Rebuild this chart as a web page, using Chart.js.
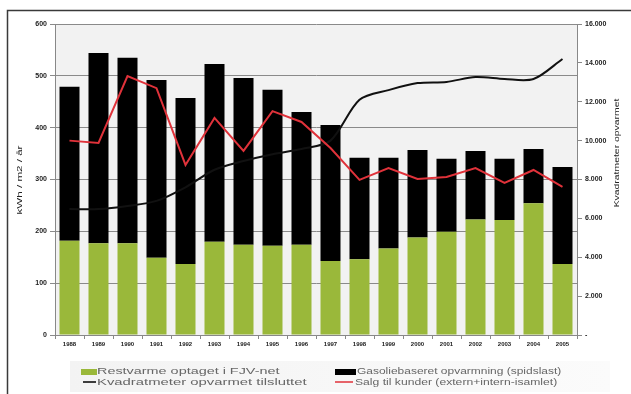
<!DOCTYPE html>
<html>
<head>
<meta charset="utf-8">
<script src="https://cdn.jsdelivr.net/npm/chart.js@4/dist/chart.umd.min.js"></script>
<style>
  html, body { margin: 0; padding: 0; background: #fff; }
  #wrap { width: 631px; height: 394px; }
</style>
</head>
<body>
<div id="wrap"><canvas id="varme"></canvas></div>
<script>
var years = ["1988", "1989", "1990", "1991", "1992", "1993", "1994", "1995", "1996",
             "1997", "1998", "1999", "2000", "2001", "2002", "2003", "2004", "2005"];

// kWh / m2 / år
var restvarme = [182, 177, 177, 149, 137, 180, 174, 172, 174, 143, 146, 167, 188, 199, 223, 222, 254, 137];
var gasolie   = [297, 367, 358, 343, 320, 343, 322, 301, 256, 262, 196, 175, 169, 141, 132, 118, 105, 187];

// kvadratmeter (højre akse)
var kvadratmeter = [6480, 6480, 6640, 6900, 7600, 8500, 8950, 9300, 9570, 10000,
                    12100, 12600, 12960, 13020, 13270, 13170, 13170, 14200];
var salg = [10000, 9880, 13320, 12700, 8750, 11170, 9470, 11520, 10960, 9620,
            7980, 8590, 8030, 8130, 8590, 7820, 8490, 7620];

var leftTicks = [0, 100, 200, 300, 400, 500, 600];
var rightTicks = [0, 2000, 4000, 6000, 8000, 10000, 12000, 14000, 16000];

var labels = [
  "Restvarme optaget i FJV-net",
  "Gasoliebaseret opvarmning (spidslast)",
  "Kvadratmeter opvarmet tilsluttet",
  "Salg til kunder (extern+intern-isamlet)"
];

var green = "#9ab83a";
var red = "#e0323a";

function fmtDot(v) {
  if (v === 0) return "-";
  return String(v).replace(/\B(?=(\d{3})+(?!\d))/g, ".");
}

// text stretched along its reading direction
function stretchedText(ctx, txt, x, y, font, sx, align) {
  ctx.save();
  ctx.font = font;
  ctx.textBaseline = "middle";
  ctx.textAlign = align || "left";
  ctx.translate(x, y);
  ctx.scale(sx, 1);
  ctx.fillText(txt, 0, 0);
  ctx.restore();
}

var frame = {
  id: "frame",
  beforeDraw: function (chart) {
    var c = chart.ctx, a = chart.chartArea;
    c.save();
    c.fillStyle = "#f2f2f2";
    c.fillRect(a.left, a.top, a.right - a.left, a.bottom - a.top);
    var g = c.createLinearGradient(70, 0, 610, 0);
    g.addColorStop(0, "#f3f3f3");
    g.addColorStop(1, "#fbfbfb");
    c.fillStyle = g;
    c.fillRect(70, 361, 540, 31);
    c.restore();
  },
  afterDraw: function (chart) {
    var c = chart.ctx;
    c.save();
    c.strokeStyle = "#3a3a3a";
    c.lineWidth = 1.5;
    c.strokeRect(7.5, 10.5, 640, 400);

    c.fillStyle = "#222";
    // left axis title
    c.save();
    c.translate(20, 180);
    c.rotate(-Math.PI / 2);
    stretchedText(c, "kWh / m2 / år", 0, 0, "8px 'Liberation Sans', Arial", 1.45, "center");
    c.restore();
    // right axis title
    c.save();
    c.translate(617, 153);
    c.rotate(-Math.PI / 2);
    stretchedText(c, "Kvadratmeter opvarmet", 0, 0, "8px 'Liberation Sans', Arial", 1.3, "center");
    c.restore();

    // legend, two columns
    var f = "9px 'Liberation Sans', Arial";
    c.fillStyle = green;
    c.fillRect(81, 369, 16, 6);
    c.fillStyle = "#000";
    c.fillRect(335, 369, 21, 6);
    c.lineWidth = 1.5;
    c.strokeStyle = "#000";
    c.beginPath(); c.moveTo(83, 382); c.lineTo(96, 382); c.stroke();
    c.strokeStyle = red;
    c.beginPath(); c.moveTo(335, 382); c.lineTo(353, 382); c.stroke();

    c.fillStyle = "#666";
    stretchedText(c, labels[0], 97, 372, f, 1.6);
    stretchedText(c, labels[1], 357, 372, f, 1.33);
    stretchedText(c, labels[2], 97, 383, f, 1.65);
    stretchedText(c, labels[3], 355, 383, f, 1.35);
    c.restore();
  }
};

var tickFont = { family: "'Liberation Sans', Arial", size: 7, weight: "bold" };

new Chart(document.getElementById("varme"), {
  type: "bar",
  data: {
    labels: years,
    datasets: [
      {
        label: labels[0],
        data: restvarme,
        backgroundColor: green,
        yAxisID: "y",
        stack: "v",
        order: 2,
        barPercentage: 0.69,
        categoryPercentage: 1.0
      },
      {
        label: labels[1],
        data: gasolie,
        backgroundColor: "#000",
        yAxisID: "y",
        stack: "v",
        order: 2,
        barPercentage: 0.69,
        categoryPercentage: 1.0
      },
      {
        type: "line",
        label: labels[2],
        data: kvadratmeter,
        borderColor: "#111",
        borderWidth: 2,
        pointRadius: 0,
        tension: 0.3,
        yAxisID: "y1",
        order: 1
      },
      {
        type: "line",
        label: labels[3],
        data: salg,
        borderColor: red,
        borderWidth: 2,
        pointRadius: 0,
        tension: 0,
        yAxisID: "y1",
        order: 0
      }
    ]
  },
  options: {
    responsive: true,
    maintainAspectRatio: false,
    animation: false,
    layout: { padding: { left: 8, right: 0, top: 24, bottom: 43 } },
    plugins: {
      legend: { display: false },
      tooltip: { enabled: false }
    },
    scales: {
      x: {
        stacked: true,
        afterFit: function (s) { s.height = 16; },
        grid: { drawOnChartArea: false, color: "#888", tickLength: 4 },
        border: { color: "#888" },
        ticks: { color: "#222", font: { family: "'Liberation Sans', Arial", size: 6, weight: "bold" }, padding: 2, maxRotation: 0 }
      },
      y: {
        stacked: true,
        position: "left",
        min: 0,
        max: 600,
        afterFit: function (s) { s.width = 47; },
        afterBuildTicks: function (s) { s.ticks = leftTicks.map(function (v) { return { value: v }; }); },
        grid: { color: "#8a8a8a", lineWidth: 1, tickLength: 5 },
        border: { color: "#888" },
        ticks: { color: "#222", font: tickFont, padding: 3 }
      },
      y1: {
        position: "right",
        min: 0,
        max: 16000,
        afterFit: function (s) { s.width = 54; },
        afterBuildTicks: function (s) { s.ticks = rightTicks.map(function (v) { return { value: v }; }); },
        grid: { drawOnChartArea: false, color: "#888", tickLength: 5 },
        border: { color: "#888" },
        ticks: { color: "#222", font: tickFont, padding: 3, callback: function (v) { return fmtDot(v); } }
      }
    }
  },
  plugins: [frame]
});
</script>
</body>
</html>
